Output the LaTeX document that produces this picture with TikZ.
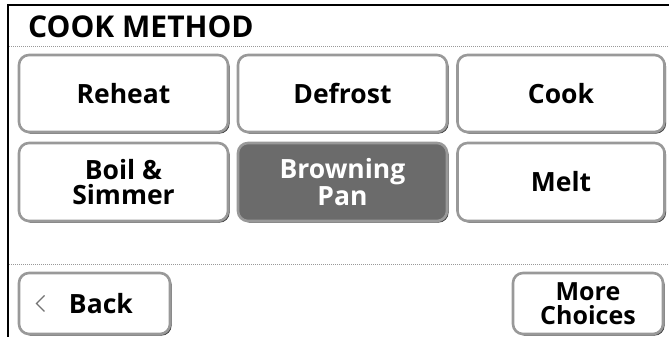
\documentclass[tikz,border=0pt]{standalone}
\usepackage{fontspec}
\setmainfont{Open Sans}
\usetikzlibrary{shadows}
\tikzset{
  btn/.style={draw=black!40, line width=2.6pt, rounded corners=10pt, fill=white,
    drop shadow={opacity=1, fill=black!75, shadow xshift=1.6pt, shadow yshift=-1.6pt},
    align=center, inner sep=0pt, font=\bfseries\fontsize{26.5}{25}\selectfont},
  selbtn/.style={btn, fill=black!58, text=white},
  sep/.style={draw=black!40, line width=1pt, dash pattern=on 1pt off 1pt},
}
\begin{document}
\begin{tikzpicture}[x=1pt,y=1pt]
\useasboundingbox (0,0) rectangle (669,337);
% frame
\coordinate (fbl) at (8,0);
\coordinate (ftl) at (8,332);
\coordinate (ftr) at (669,332);
\draw[line width=2pt, line cap=rect] (fbl) -- (ftl) -- (ftr);
% title
\node[anchor=base west, inner sep=0pt, font=\bfseries\fontsize{30}{30}\selectfont] (title) at (28,299.5) {COOK METHOD};
% separators
\coordinate (s1a) at (9,290); \coordinate (s1b) at (669,290);
\coordinate (s2a) at (9,72);  \coordinate (s2b) at (669,72);
\draw[sep] (s1a) -- (s1b);
\draw[sep] (s2a) -- (s2b);
% row 1
\node[btn, minimum width=209pt, minimum height=77pt] (reheat) at (123.5,243.5) {Reheat};
\node[btn, minimum width=209pt, minimum height=77pt] (defrost) at (342.5,243.5) {Defrost};
\node[btn, minimum width=207pt, minimum height=77pt] (cook) at (561,243.5) {Cook};
% row 2
\node[btn, minimum width=209pt, minimum height=78pt] (boil) at (123.5,155) {Boil \&\\Simmer};
\node[selbtn, minimum width=209pt, minimum height=78pt] (brown) at (342.5,155) {Browning\\Pan};
\node[btn, minimum width=207pt, minimum height=78pt] (melt) at (561,155) {Melt};
% bottom
\node[btn, minimum width=151pt, minimum height=61pt, text width=151pt, align=left] (back) at (94.5,33.5) {\hspace*{50pt}Back};
\draw[black!55, line width=1.2pt] ([xshift=-50pt,yshift=8pt]back.center) -- ([xshift=-58pt,yshift=0pt]back.center) -- ([xshift=-50pt,yshift=-8pt]back.center);
\node[btn, minimum width=150pt, minimum height=61pt, font=\bfseries\fontsize{25}{24}\selectfont] (more) at (588,33.5) {More\\Choices};
\end{tikzpicture}
\end{document}
